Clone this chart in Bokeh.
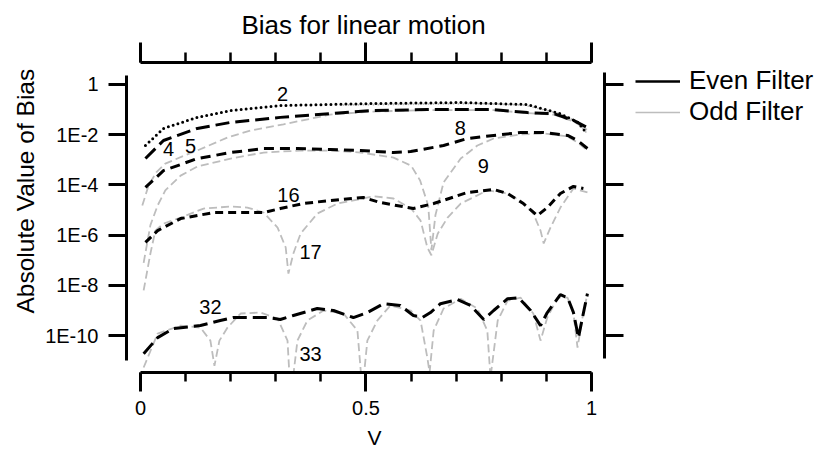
import numpy as np
from bokeh.plotting import figure
from bokeh.models import (LogAxis, LinearAxis, FixedTicker, CustomJSTickFormatter,
                          Legend, LegendItem, Range1d, Title)
from bokeh.core.properties import value
from bokeh.embed import file_html
from bokeh.resources import INLINE

# ---- data: velocity V and log10(|bias|) ----
# Even filters (black)
v_2 = [0.011, 0.051, 0.126, 0.2, 0.31, 0.51, 0.71, 0.858, 0.93, 0.97, 0.99]
e_2 = [-2.43, -1.75, -1.31, -1.04, -0.84, -0.76, -0.72, -0.80, -1.16, -1.51, -1.95]

v_4 = [0.011, 0.051, 0.126, 0.2, 0.31, 0.42, 0.51, 0.636, 0.783, 0.858, 0.916, 0.96, 0.99]
e_4 = [-2.95, -2.23, -1.75, -1.51, -1.31, -1.16, -1.04, -1.0, -1.0, -1.12, -1.16, -1.43, -1.71]

v_8 = [0.011, 0.051, 0.126, 0.2, 0.273, 0.348, 0.421, 0.488, 0.561, 0.599, 0.672, 0.725,
       0.783, 0.843, 0.894, 0.947, 0.969, 0.991]
e_8 = [-4.10, -3.43, -2.95, -2.71, -2.55, -2.55, -2.59, -2.63, -2.71, -2.67, -2.43, -2.15,
       -2.03, -1.91, -1.91, -2.03, -2.23, -2.55]

v_16 = [0.011, 0.038, 0.089, 0.162, 0.237, 0.273, 0.31, 0.361, 0.421, 0.494, 0.532, 0.605,
        0.65, 0.725, 0.783, 0.814, 0.849, 0.88, 0.902, 0.931, 0.96, 0.982]
e_16 = [-6.29, -5.82, -5.34, -5.10, -5.10, -5.10, -4.94, -4.74, -4.62, -4.50, -4.70, -4.94,
        -4.74, -4.30, -4.18, -4.34, -4.74, -5.22, -4.90, -4.34, -4.06, -4.14]

v_32 = [0.007, 0.038, 0.073, 0.133, 0.177, 0.206, 0.282, 0.31, 0.339, 0.392, 0.428, 0.472,
        0.503, 0.539, 0.576, 0.605, 0.625, 0.643, 0.665, 0.703, 0.732, 0.761, 0.783, 0.814,
        0.838, 0.865, 0.887, 0.902, 0.931, 0.947, 0.96, 0.971, 0.98, 0.991]
e_32 = [-10.72, -10.08, -9.72, -9.60, -9.40, -9.28, -9.28, -9.36, -9.20, -8.92, -9.0, -9.28,
        -9.08, -8.73, -8.80, -9.20, -9.28, -9.08, -8.73, -8.57, -8.80, -9.36, -9.0, -8.53,
        -8.49, -9.0, -9.60, -9.08, -8.37, -8.49, -9.08, -10.08, -9.28, -8.33]

# Odd filters (grey)
v_3 = [0.45, 0.55, 0.65, 0.75, 0.85, 0.93, 0.97, 0.99]
e_3 = [-0.82, -0.80, -0.78, -0.76, -0.82, -1.16, -1.50, -1.95]

v_5 = [0.004, 0.018, 0.035, 0.055, 0.095, 0.126, 0.193, 0.244, 0.317, 0.42, 0.51, 0.636,
       0.783, 0.858, 0.916, 0.96, 0.99]
e_5 = [-4.82, -4.02, -3.50, -3.15, -2.85, -2.63, -2.11, -1.83, -1.59, -1.20, -1.08, -1.02,
       -1.02, -1.14, -1.20, -1.47, -1.80]

v_9 = [0.007, 0.022, 0.038, 0.055, 0.089, 0.126, 0.2, 0.273, 0.355, 0.421, 0.488, 0.561,
       0.6, 0.62, 0.638, 0.645, 0.654, 0.672, 0.71, 0.747, 0.783, 0.843, 0.894, 0.947,
       0.969, 0.991]
e_9 = [-7.1, -5.6, -4.82, -4.22, -3.63, -3.27, -2.95, -2.71, -2.63, -2.63, -2.71, -2.91,
       -3.23, -3.82, -4.82, -6.6, -5.2, -3.9, -2.95, -2.43, -2.15, -1.99, -1.95, -2.07,
       -2.31, -2.63]

v_17 = [0.007, 0.022, 0.033, 0.051, 0.089, 0.14, 0.2, 0.237, 0.273, 0.304, 0.322, 0.328,
        0.339, 0.355, 0.392, 0.437, 0.494, 0.517, 0.561, 0.6, 0.621, 0.636, 0.645, 0.659,
        0.681, 0.71, 0.769, 0.805, 0.843, 0.871, 0.887, 0.894, 0.909, 0.931, 0.96, 0.991]
e_17 = [-8.2, -6.73, -5.82, -5.54, -5.30, -4.94, -4.86, -4.90, -5.10, -5.70, -6.49, -7.53,
        -6.73, -5.94, -5.14, -4.74, -4.54, -4.45, -4.54, -4.94, -5.42, -6.49, -6.8, -5.94,
        -5.30, -4.74, -4.22, -4.30, -4.62, -5.14, -5.82, -6.33, -5.70, -4.90, -4.14, -4.30]

v_33 = [0.007, 0.038, 0.089, 0.133, 0.155, 0.164, 0.175, 0.193, 0.222, 0.266, 0.304, 0.326,
        0.333, 0.348, 0.37, 0.406, 0.45, 0.481, 0.492, 0.503, 0.525, 0.554, 0.599, 0.621,
        0.636, 0.641, 0.65, 0.672, 0.71, 0.747, 0.769, 0.776, 0.792, 0.814, 0.843, 0.871,
        0.887, 0.902, 0.925, 0.947, 0.96, 0.969, 0.98, 0.991]
e_33 = [-11.27, -9.92, -9.60, -9.68, -10.2, -11.2, -10.2, -9.68, -9.12, -9.08, -9.32, -10.2,
        -12.47, -10.2, -9.40, -9.0, -9.12, -9.80, -12.2, -10.2, -9.40, -8.80, -9.0, -9.40,
        -10.88, -11.47, -9.80, -8.92, -8.53, -8.92, -9.80, -11.67, -9.40, -8.61, -8.49, -9.12,
        -10.2, -9.28, -8.49, -8.49, -9.12, -10.48, -9.28, -8.33]

# curve annotations
lab_text = ["2", "4", "5", "8", "9", "16", "17", "32", "33"]
lab_v = [0.315, 0.062, 0.111, 0.709, 0.76, 0.328, 0.377, 0.155, 0.377]
lab_e = [-0.36, -2.55, -2.43, -1.75, -3.23, -4.42, -6.69, -8.88, -10.72]

y_ticks = [1e-10, 1e-8, 1e-6, 1e-4, 1e-2, 1]
x_major = [0, 0.5, 1]
x_minor = [0, 0.1, 0.2, 0.3, 0.4, 0.5, 0.6, 0.7, 0.8, 0.9, 1.0]

FONT = "Liberation Sans"
GREY = "#bdbdbd"


def pw(e):
    return [10.0 ** x for x in e]


# frame spans from the left axis to the right edge; V=0 -> 140px, V=1 -> 591px
p = figure(width=819, height=462, output_backend="svg", toolbar_location=None,
           x_range=Range1d(-0.031, 1.5055), y_range=Range1d(3.4e-12, 7.5),
           y_axis_type="log", x_axis_location=None, y_axis_location=None,
           min_border_left=126, min_border_right=0, min_border_top=62,
           min_border_bottom=90)
p.outline_line_color = None
p.xgrid.visible = False
p.ygrid.visible = False
p.background_fill_color = "white"
p.border_fill_color = "white"

# grey (odd) curves
for vv, ee, dash in [(v_3, e_3, "0 5"), (v_5, e_5, "8 4"), (v_9, e_9, "8 4"),
                     (v_17, e_17, "8 4"), (v_33, e_33, "8 4")]:
    p.line(vv, pw(ee), line_color=GREY, line_width=1.8, line_dash=dash,
           line_cap="round" if dash == "0 5" else "butt")

# black (even) curves
p.line(v_2, pw(e_2), line_color="black", line_width=3, line_dash="0 5", line_cap="round")
p.line(v_4, pw(e_4), line_color="black", line_width=3, line_dash="14 6")
p.line(v_8, pw(e_8), line_color="black", line_width=3, line_dash="10 6")
p.line(v_16, pw(e_16), line_color="black", line_width=3, line_dash="8 5")
p.line(v_32, pw(e_32), line_color="black", line_width=3, line_dash="14 6")

p.text(x=lab_v, y=pw(lab_e), text=lab_text, text_font=value(FONT), text_font_size="20px",
       text_align="center", text_baseline="middle", text_color="black")

# axes
def style(ax, tick_out, minor_out=0):
    ax.axis_line_width = 3
    ax.axis_line_color = "black"
    ax.major_tick_line_width = 3
    ax.minor_tick_line_width = 2.5
    ax.major_tick_in = 0
    ax.major_tick_out = tick_out
    ax.minor_tick_in = 0
    ax.minor_tick_out = minor_out
    ax.major_label_text_font = FONT
    ax.major_label_text_font_size = "20px"
    ax.major_label_text_color = "black"


ylab = CustomJSTickFormatter(code="""
const e = Math.round(Math.log10(tick));
return e == 0 ? "1" : "1E" + e;
""")
blank = CustomJSTickFormatter(code="return '';")

left = LogAxis(ticker=FixedTicker(ticks=y_ticks), formatter=ylab, bounds=(1e-11, 2.29))
style(left, 18)
left.major_label_standoff = 10
p.add_layout(left, "left")

# detached right-hand axis (no labels), ticks pointing outward (right)
right = LogAxis(ticker=FixedTicker(ticks=y_ticks), formatter=blank, bounds=(1.2e-11, 3.0),
                fixed_location=1.029)
style(right, 0)
right.major_tick_in = 19
right.major_label_standoff = 0
p.add_layout(right, "left")

ytitle = Title(text="Absolute Value of Bias", align="left", offset=59,
               text_font=FONT, text_font_size="24.5px", text_font_style="normal",
               text_color="black", standoff=8)
p.add_layout(ytitle, "left")

xfmt = CustomJSTickFormatter(code="return String(tick);")
bottom = LinearAxis(ticker=FixedTicker(ticks=x_major, minor_ticks=x_minor), formatter=xfmt,
                    bounds=(0, 1))
style(bottom, 19, 9)
bottom.major_label_standoff = 9
p.add_layout(bottom, "below")

xtitle = Title(text="V", align="left", offset=241, text_font=FONT, text_font_size="21px",
               text_font_style="normal", text_color="black", standoff=12,
               text_baseline="middle")
p.add_layout(xtitle, "below")

top = LinearAxis(ticker=FixedTicker(ticks=x_major, minor_ticks=x_minor), formatter=blank,
                 bounds=(0, 1))
style(top, 20, 10)
top.major_label_standoff = 0
p.add_layout(top, "above")

ttitle = Title(text="Bias for linear motion", align="left", offset=115, text_font=FONT,
               text_font_size="26px", text_font_style="normal", text_color="black",
               standoff=6)
p.add_layout(ttitle, "above")

# legend
r_even = p.line([0.5], [1.0], line_color="black", line_width=2.5)
r_odd = p.line([0.5], [1.0], line_color=GREY, line_width=1.5)
legend = Legend(items=[LegendItem(label="Even Filter", renderers=[r_even]),
                       LegendItem(label="Odd Filter", renderers=[r_odd])],
                location=(509, 245), glyph_width=45, glyph_height=24, label_height=24,
                label_standoff=9, spacing=0, padding=7, margin=0,
                border_line_color=None, background_fill_alpha=0,
                label_text_font=FONT, label_text_font_size="26px", label_text_color="black")
p.add_layout(legend)

open("out.html", "w").write(file_html(p, INLINE))
